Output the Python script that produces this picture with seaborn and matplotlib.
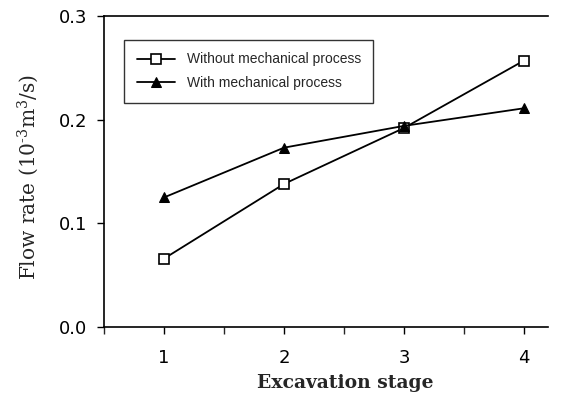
import matplotlib
matplotlib.use("Agg")
import numpy as np
import pandas as pd
import matplotlib.pyplot as plt
from matplotlib.ticker import MultipleLocator, FormatStrFormatter
import seaborn as sns

# Plot style
sns.set_style("ticks")
plt.rcParams["font.family"] = ["DejaVu Sans"]
plt.rcParams["mathtext.fontset"] = "dejavuserif"

# Data
stages = [1, 2, 3, 4]
without_mech = [0.066, 0.138, 0.192, 0.257]
with_mech = [0.125, 0.173, 0.194, 0.211]
series_labels = ["Without mechanical process", "With mechanical process"]
y_ticks = [0.0, 0.1, 0.2, 0.3]

# Long-form table for seaborn
df = pd.DataFrame({
    "stage": stages * 2,
    "flow": without_mech + with_mech,
    "series": [series_labels[0]] * len(stages) + [series_labels[1]] * len(stages),
})

fig = plt.figure(figsize=(5.72, 4.0), dpi=100)
ax = fig.add_axes([0.182, 0.1825, 0.776, 0.7775])

sns.lineplot(
    data=df,
    x="stage",
    y="flow",
    hue="series",
    style="series",
    hue_order=series_labels,
    style_order=series_labels,
    palette=["black", "black"],
    markers={series_labels[0]: "s", series_labels[1]: "^"},
    dashes=False,
    linewidth=1.3,
    markersize=7,
    legend=False,
    ax=ax,
)

# Open squares for the first series, filled triangles for the second
lines = ax.lines[:2]
lines[0].set_markerfacecolor("white")
lines[0].set_markeredgecolor("black")
lines[0].set_markersize(6.5)
lines[0].set_markeredgewidth(1.2)
lines[1].set_markerfacecolor("black")
lines[1].set_markeredgecolor("black")
lines[1].set_markersize(7.5)

# Axis limits and ticks
ax.set_xlim(0.5, 4.2)
ax.set_ylim(0.0, 0.3)
ax.set_xticks(stages)
ax.xaxis.set_minor_locator(MultipleLocator(0.5))
ax.set_yticks(y_ticks)
ax.yaxis.set_major_formatter(FormatStrFormatter("%.1f"))
ax.tick_params(axis="both", which="major", direction="out", length=5,
               width=1, labelsize=13, colors="black")
ax.tick_params(axis="x", which="minor", direction="out", length=5, width=1)
ax.tick_params(axis="x", pad=11)
ax.tick_params(axis="y", pad=7)

# Frame: left, bottom and top lines only
ax.spines["right"].set_visible(False)
for side in ["left", "bottom", "top"]:
    ax.spines[side].set_color("black")
    ax.spines[side].set_linewidth(1.2)

# Axis labels in serif
ax.set_xlabel("Excavation stage", family="DejaVu Serif",
              fontweight="bold", fontsize=13.5)
ax.set_ylabel(r"Flow rate (10$^{\text{-}3}$m$^{3}$/s)", family="DejaVu Serif",
              fontsize=14.5)
ax.xaxis.set_label_coords(0.543, -0.150)
ax.yaxis.set_label_coords(-0.142, 0.484)

# Legend box
leg = ax.legend(
    handles=lines,
    labels=series_labels,
    loc="upper left",
    bbox_to_anchor=(0.045, 0.923),
    borderaxespad=0,
    frameon=True,
    fancybox=False,
    edgecolor="black",
    prop={"family": "Liberation Sans", "size": 10.0},
    handlelength=2.8,
    handletextpad=0.8,
    borderpad=0.9,
    labelspacing=0.7,
)
leg.get_frame().set_linewidth(1.0)

fig.savefig("out.png", dpi=100)
